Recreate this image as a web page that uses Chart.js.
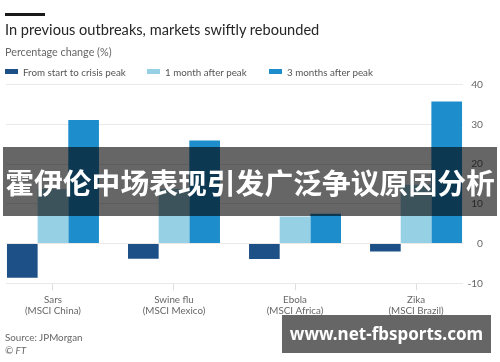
<!DOCTYPE html>
<html>
<head>
<meta charset="utf-8">
<script src="https://cdn.jsdelivr.net/npm/chart.js@4/dist/chart.umd.min.js"></script>
<style>
    body { margin: 0; background: #fff; font-family: Lato, "Noto Sans", sans-serif; }
    #wrap { position: relative; width: 500px; height: 362px; overflow: hidden; }
    #chart { position: absolute; left: 0; top: 0; }
    .txt { position: absolute; white-space: nowrap; }
    #rule { position: absolute; left: 5px; top: 13px; width: 40px; height: 3px; background: #1a1a1a; }
    #title { left: 5px; top: 21px; font-size: 14.6px; color: #262626; }
    #subtitle { left: 5px; top: 45px; font-size: 10.8px; color: #666; }
    #legend { position: absolute; left: 5px; top: 66px; font-size: 9.8px; color: #555; }
    #legend span.item { position: absolute; top: 0; white-space: nowrap; }
    #legend i { display: inline-block; width: 13px; height: 5px; margin-right: 5px; vertical-align: 2px; }
    #source { left: 5px; top: 331px; font-size: 9.8px; color: #666; }
    #ft { left: 5px; top: 344px; font-size: 9.8px; color: #666; font-style: italic; }
    #banner { position: absolute; left: 3px; top: 147px; width: 494px; height: 69px; background: rgba(0,0,0,0.6);
        color: #fff; font-family: "Noto Sans CJK SC", sans-serif; font-weight: bold; font-size: 28.8px;
        line-height: 69px; text-align: center; white-space: nowrap; }
    #mark { position: absolute; left: 282px; top: 315px; width: 209px; height: 38px; background: rgba(0,0,0,0.6);
        color: #fff; font-family: "Noto Sans", sans-serif; font-weight: bold; font-size: 17px;
        line-height: 38px; text-align: center; white-space: nowrap; }
</style>
</head>
<body>
<div id="wrap">
    <canvas id="chart" width="500" height="362"></canvas>
    <div id="rule"></div>
    <div class="txt" id="title">In previous outbreaks, markets swiftly rebounded</div>
    <div class="txt" id="subtitle">Percentage change (%)</div>
    <div id="legend"></div>
    <div class="txt" id="source">Source: JPMorgan</div>
    <div class="txt" id="ft">© FT</div>
    <div id="banner">霍伊伦中场表现引发广泛争议原因分析</div>
    <div id="mark">www.net-fbsports.com</div>
</div>
<script>
// categories
const outbreaks = ['Sars', 'Swine flu', 'Ebola', 'Zika'];
const marketIndex = ['(MSCI China)', '(MSCI Mexico)', '(MSCI Africa)', '(MSCI Brazil)'];

// series (percentage change)
const seriesNames = ['From start to crisis peak', '1 month after peak', '3 months after peak'];
const toPeak = [-8.6, -3.8, -3.9, -2.0];
const oneMonth = [13.7, 13.7, 6.8, 14.8];
const threeMonths = [31.1, 25.9, 7.5, 35.7];

// y axis ticks
const yTicks = [-10, 0, 10, 20, 30, 40];

const colors = ['#1e5088', '#96d0e4', '#1e8dcc'];
const series = [toPeak, oneMonth, threeMonths];

const datasets = series.map((vals, s) => ({
    label: seriesNames[s],
    data: vals.map((v, i) => ({ x: i, y: v })),
    backgroundColor: colors[s],
    borderWidth: 0,
    categoryPercentage: 0.76,
    barPercentage: 1.0
}));

// legend in html, built from the same names/colours
const legendEl = document.getElementById('legend');
const legendX = [0, 142, 264];
seriesNames.forEach((name, s) => {
    const item = document.createElement('span');
    item.className = 'item';
    item.style.left = legendX[s] + 'px';
    item.innerHTML = '<i style="background:' + colors[s] + '"></i>' + name;
    legendEl.appendChild(item);
});

const tickFont = { family: 'Lato, "Noto Sans", sans-serif', size: 9.8, lineHeight: 1.15 };

const ctx = document.getElementById('chart').getContext('2d');
new Chart(ctx, {
    type: 'bar',
    data: { datasets: datasets },
    options: {
        responsive: false,
        animation: false,
        devicePixelRatio: 1,
        layout: { padding: { left: 6, top: 84.5, right: 17, bottom: 38.7 } },
        plugins: { legend: { display: false }, tooltip: { enabled: false } },
        scales: {
            x: {
                type: 'linear',
                min: -0.388,
                max: 3.388,
                offset: false,
                afterBuildTicks: scale => { scale.ticks = outbreaks.map((c, i) => ({ value: i })); },
                afterFit: scale => { scale.height = 40; },
                border: { display: false },
                grid: { offset: false, drawOnChartArea: false, drawTicks: true, tickLength: 7, color: '#dedede' },
                ticks: {
                    padding: 4,
                    color: '#666',
                    font: tickFont,
                    callback: v => [outbreaks[v], marketIndex[v]]
                }
            },
            y: {
                position: 'right',
                min: -10,
                max: 40,
                afterBuildTicks: scale => { scale.ticks = yTicks.map(v => ({ value: v })); },
                afterFit: scale => { scale.width = 20; },
                border: { display: false },
                grid: { drawTicks: false, color: '#ebe8e6' },
                ticks: {
                    padding: 4,
                    crossAlign: 'far',
                    color: '#666',
                    font: { family: 'Lato, "Noto Sans", sans-serif', size: 10.2 }
                }
            }
        }
    }
});
</script>
</body>
</html>
